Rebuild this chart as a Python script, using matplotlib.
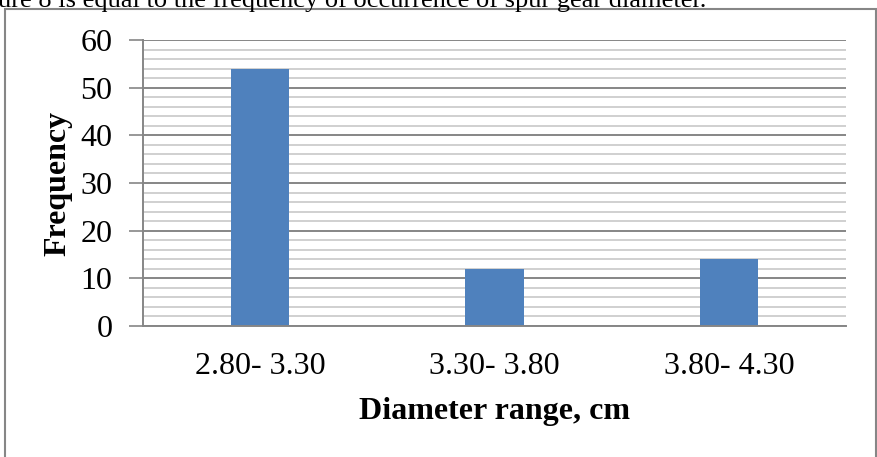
import numpy as np
import matplotlib
matplotlib.use("Agg")
import matplotlib.pyplot as plt
from matplotlib.patches import Rectangle

categories = ["2.80- 3.30", "3.30- 3.80", "3.80- 4.30"]
frequency = [54, 12, 14]

BAR = "#4f81bd"; MAJ = "#868686"; MIN = "#c8c8c8"
plt.rcParams["font.family"] = ["Liberation Serif", "DejaVu Serif"]

W, H = 878, 457
fig = plt.figure(figsize=(W/100, H/100), dpi=100)
ax = fig.add_axes([143/W, 1-326/H, 703/W, 286/H])

x = np.arange(len(categories))
ax.bar(x, frequency, width=0.25, color=BAR, zorder=3)
ax.set_xlim(-0.5, len(categories)-0.5)
ax.set_ylim(0, 60)
ax.set_yticks(np.arange(0, 61, 10))
ax.set_yticks(np.arange(0, 61, 2), minor=True)
ax.grid(axis="y", which="minor", color=MIN, lw=1.2, zorder=0)
ax.grid(axis="y", which="major", color=MAJ, lw=1.4, zorder=1)
ax.set_xticks(x, categories)
ax.tick_params(axis="x", length=0, labelsize=23, pad=19)
ax.tick_params(axis="y", which="major", length=10, width=1.2, color=MAJ, labelsize=23, pad=12)
ax.tick_params(axis="y", which="minor", length=0)
for s in ["top", "right"]:
    ax.spines[s].set_visible(False)
for s in ["left", "bottom"]:
    ax.spines[s].set_color(MAJ); ax.spines[s].set_linewidth(1.4)
    ax.spines[s].set_zorder(4)

ax.set_xlabel("Diameter range, cm", fontsize=23, fontweight="bold", labelpad=11)
ax.set_ylabel("Frequency", fontsize=23, fontweight="bold")
ax.yaxis.set_label_coords(-(143-72)/703, 0.5)

# outer chart frame and clipped caption line above it
fig.patches.append(Rectangle((5/W, -0.05), 871/W, 1.05-9/H, transform=fig.transFigure,
                             fill=False, ec=MAJ, lw=1.5))
fig.text(-2/W, 1-7/H, "ure 8 is equal to the frequency of occurrence of spur gear diameter.",
         fontsize=19, ha="left", va="baseline")

fig.savefig("out.png", dpi=100)
